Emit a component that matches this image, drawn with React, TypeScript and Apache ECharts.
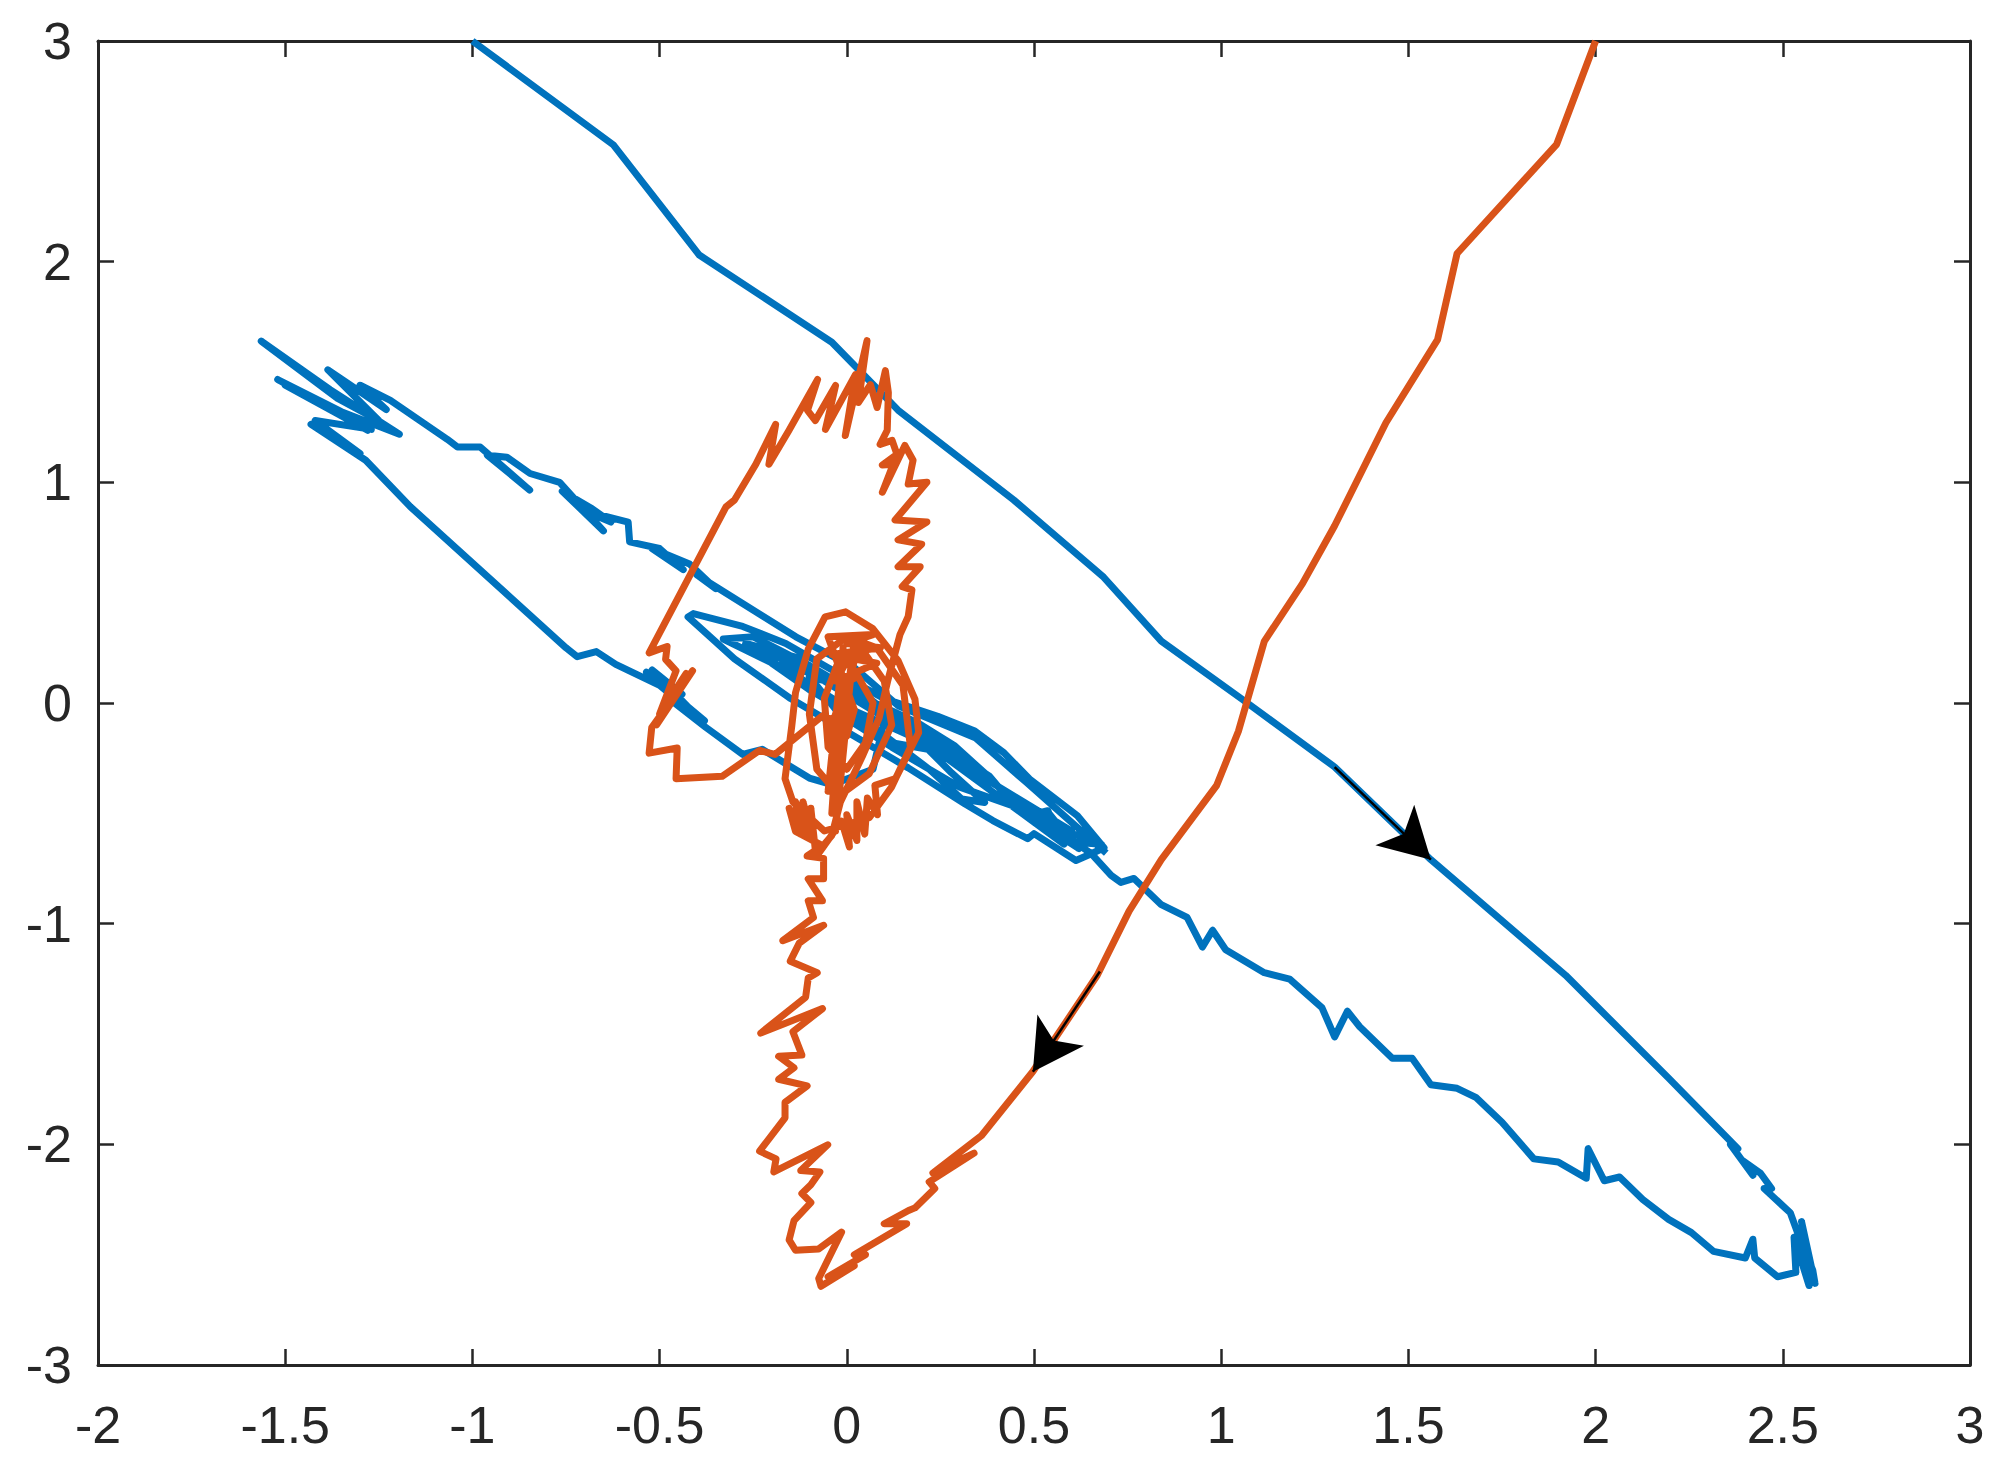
import React, { useEffect, useRef } from "react";
import * as echarts from "echarts";

const xTicks = { min: -2, max: 3, step: 0.5 };
const yTicks = { min: -3, max: 3, step: 1 };

// blue trajectory
const blueOutbound: number[][] = [
  [-1, 3], [-0.624, 2.53], [-0.394, 2.03], [-0.04, 1.635], [0.137, 1.327], [0.446, 0.92],
  [0.686, 0.57], [0.84, 0.28], [1.056, 0.017], [1.303, -0.29], [1.56, -0.71], [1.92, -1.234],
  [2.195, -1.7], [2.38, -2.02], [2.36, -2.0], [2.42, -2.14], [2.39, -2.07], [2.44, -2.13],
  [2.47, -2.2], [2.45, -2.2], [2.52, -2.31], [2.55, -2.45], [2.58, -2.57], [2.586, -2.63], [2.55, -2.35],
  [2.58, -2.6], [2.54, -2.38], [2.57, -2.64], [2.53, -2.42], [2.535, -2.58],
];
const blueReturn: number[][] = [
  [2.486, -2.6], [2.425, -2.515], [2.42, -2.43], [2.4, -2.515], [2.315, -2.485], [2.256, -2.4],
  [2.195, -2.34], [2.126, -2.25], [2.064, -2.148], [2.023, -2.165], [1.98, -2.02], [1.975, -2.154],
  [1.9, -2.08], [1.835, -2.066], [1.75, -1.9], [1.68, -1.787], [1.63, -1.746], [1.56, -1.73],
  [1.51, -1.61], [1.457, -1.61], [1.37, -1.467], [1.337, -1.397], [1.303, -1.513], [1.269, -1.38],
  [1.183, -1.251], [1.115, -1.222], [1.012, -1.118], [0.977, -1.03], [0.95, -1.106], [0.909, -0.972],
  [0.84, -0.914], [0.767, -0.795], [0.732, -0.813], [0.706, -0.781], [0.653, -0.683],
];
const blueEllipse: number[][] = [
  [0.612, -0.714], [0.5, -0.592], [0.483, -0.615], [0.39, -0.533], [0.315, -0.457], [0.164, -0.294],
  [0, -0.13], [-0.15, 0.02], [-0.3, 0.2], [-0.424, 0.39], [-0.41, 0.405], [-0.278, 0.347],
  [-0.163, 0.27], [-0.05, 0.16], [0.1, 0.02], [0.243, -0.06], [0.342, -0.127], [0.42, -0.226],
  [0.488, -0.344], [0.616, -0.511], [0.687, -0.656], [0.653, -0.683], [0.55, -0.56], [0.68, -0.64],
  [0.6, -0.63], [0.54, -0.5], [0.537, -0.488], [0.483, -0.511], [0.42, -0.407], [0.368, -0.317],
  [0.289, -0.195], [0.19, -0.09], [0.05, 0.02], [-0.1, 0.17], [-0.25, 0.3], [-0.33, 0.29],
  [-0.15, 0.14], [0, -0.02], [0.19, -0.164], [0.28, -0.317], [0.368, -0.451], [0.307, -0.435],
  [0.22, -0.3], [0.08, -0.12], [-0.1, 0.06], [-0.2, 0.18], [-0.08, 0.13], [0.05, 0],
  [0.2, -0.13], [0.38, -0.33], [0.45, -0.47], [0.3, -0.38], [0.12, -0.2], [-0.02, -0.05],
  [-0.1, 0.12], [0.03, 0.06], [0.13, -0.07], [0.25, -0.22], [0.12, -0.18], [-0.02, -0.02],
  [-0.27, 0.27], [-0.12, 0.2], [-0.22, 0.24], [-0.06, 0.1], [0.6, -0.58], [0.42, -0.44],
  [0.62, -0.66], [0.5, -0.5], [0.58, -0.64], [0.05, 0.02], [0.1, -0.08], [0.07, -0.3], [-0.04, -0.37],
];
const blueLeftLoop: number[][] = [
  [-0.1, -0.34], [-0.226, -0.21], [-0.278, -0.233], [-0.377, -0.11], [-0.46, 0], [-0.38, -0.08],
  [-0.535, 0.14], [-0.44, 0.04], [-0.52, 0.15], [-0.4, -0.06], [-0.5, 0.08], [-0.617, 0.175],
  [-0.669, 0.233], [-0.72, 0.21], [-0.75, 0.25], [-1.166, 0.89], [-1.285, 1.1], [-1.431, 1.263],
  [-1.3, 1.13], [-1.42, 1.28], [-1.27, 1.24], [-1.5, 1.44], [-1.28, 1.236], [-1.52, 1.466],
  [-1.35, 1.32], [-1.195, 1.218], [-1.38, 1.42], [-1.564, 1.64], [-1.36, 1.38], [-1.25, 1.28],
  [-1.386, 1.51], [-1.23, 1.33], [-1.3, 1.44], [-1.219, 1.371],
];
const blueUpper: number[][] = [
  [-1.067, 1.195], [-1.04, 1.16], [-0.979, 1.16], [-0.847, 0.965], [-0.96, 1.123], [-0.908, 1.114],
  [-0.846, 1.04], [-0.767, 1.0], [-0.65, 0.78], [-0.76, 0.96], [-0.68, 0.88], [-0.63, 0.82],
  [-0.7, 0.87], [-0.584, 0.82], [-0.58, 0.73], [-0.5, 0.7], [-0.437, 0.604], [-0.52, 0.7],
  [-0.42, 0.63], [-0.35, 0.518], [-0.4, 0.58], [-0.136, 0.3], [0.02, 0.16], [0.137, -0.012],
  [0.343, -0.157], [0.48, -0.36], [0.693, -0.68],
];

// orange trajectory
const orangeOutbound: number[][] = [
  [2, 3], [1.896, 2.532], [1.63, 2.037], [1.578, 1.647], [1.44, 1.27], [1.303, 0.803],
  [1.217, 0.541], [1.115, 0.279], [1.046, -0.128], [0.988, -0.373], [0.84, -0.71], [0.754, -0.943],
  [0.669, -1.234], [0.497, -1.67], [0.36, -1.96], [0.23, -2.13], [0.34, -2.04], [0.22, -2.17],
  [0.235, -2.2], [0.182, -2.288], [0.165, -2.3], [0.1, -2.36], [0.16, -2.36], [0.02, -2.5],
  [0.05, -2.5], [-0.05, -2.6], [0.02, -2.55], [-0.069, -2.643],
];
const orangeWiggle: number[][] = [
  [-0.075, -2.608], [-0.014, -2.398], [-0.075, -2.474], [-0.137, -2.48], [-0.154, -2.433], [-0.141, -2.346],
  [-0.096, -2.264], [-0.12, -2.223], [-0.096, -2.183], [-0.072, -2.125], [-0.123, -2.119], [-0.051, -2.002],
  [-0.195, -2.125], [-0.189, -2.066], [-0.233, -2.031], [-0.165, -1.88], [-0.165, -1.81], [-0.106, -1.735],
  [-0.182, -1.705], [-0.141, -1.653], [-0.182, -1.601], [-0.12, -1.595], [-0.144, -1.49], [-0.065, -1.385],
  [-0.23, -1.496], [-0.11, -1.333], [-0.103, -1.246], [-0.079, -1.222], [-0.151, -1.17], [-0.127, -1.088],
  [-0.062, -1.007], [-0.171, -1.077], [-0.089, -0.972], [-0.103, -0.896], [-0.065, -0.896], [-0.103, -0.797],
  [-0.062, -0.797], [-0.062, -0.704], [-0.106, -0.693],
];
const orangeBlob: number[][] = [
  [-0.065, -0.646], [-0.137, -0.582], [-0.154, -0.477], [-0.123, -0.594], [-0.137, -0.448], [-0.103, -0.594],
  [-0.117, -0.448], [-0.089, -0.623], [-0.096, -0.477], [-0.082, -0.698], [-0.014, -0.536], [0.007, -0.652],
  [0, -0.506], [0.027, -0.623], [0.027, -0.448], [0.048, -0.594], [0.055, -0.431], [0.082, -0.506],
  [0.075, -0.373], [0.13, -0.343], [0.192, -0.134], [0.182, 0.017], [0.137, 0.192], [0.069, 0.338],
  [-0.003, 0.413], [-0.058, 0.39], [-0.103, 0.244], [-0.137, 0.047], [-0.147, -0.105], [-0.165, -0.343],
  [-0.144, -0.448],
];
const orangeSpiral: number[][] = [
  [-0.06, -0.58], [0.06, -0.52], [0.12, -0.38], [0.17, -0.2], [0.15, 0.08], [0.08, 0.25],
  [0, 0.3], [-0.08, 0.2], [-0.1, -0.05], [-0.08, -0.3], [-0.02, -0.42], [0.06, -0.32],
  [0.12, -0.1], [0.1, 0.1], [0.05, 0.22], [-0.02, 0.2], [-0.06, 0.02], [-0.05, -0.2],
  [0, -0.3], [0.05, -0.18], [0.07, 0], [0.03, 0.12], [-0.02, 0.08], [-0.03, -0.08],
  [0, -0.15], [0.02, -0.03], [-0.05, 0.3], [0.07, 0.31], [0, 0.27], [0.09, 0.25],
  [-0.04, 0.22], [0.08, 0.18], [-0.03, 0.1], [0.03, 0.28], [-0.05, -0.4], [-0.01, 0.25],
  [-0.04, -0.5], [0.02, 0.28], [-0.03, -0.58], [0, 0.1], [-0.05, -0.15], [0, -0.1],
];
const orangeLeft: number[][] = [
  [-0.065, -0.058], [-0.192, -0.233], [-0.233, -0.215], [-0.333, -0.332], [-0.456, -0.343], [-0.453, -0.204],
  [-0.528, -0.227], [-0.521, -0.111], [-0.412, 0.146], [-0.508, -0.099], [-0.429, 0.134], [-0.5, -0.05],
  [-0.456, 0.146], [-0.484, 0.198], [-0.48, 0.256], [-0.528, 0.227],
];
const orangeTop: number[][] = [
  [-0.323, 0.888], [-0.3, 0.92], [-0.243, 1.082], [-0.19, 1.263], [-0.208, 1.082], [-0.155, 1.234],
  [-0.078, 1.466], [-0.105, 1.326], [-0.084, 1.28], [-0.03, 1.439], [-0.057, 1.24], [0.023, 1.488],
  [-0.004, 1.212], [0.054, 1.642], [0.031, 1.362], [0.063, 1.443], [0.081, 1.339], [0.103, 1.506],
  [0.111, 1.407], [0.108, 1.236], [0.089, 1.172], [0.121, 1.19], [0.134, 1.127], [0.095, 1.078],
  [0.124, 1.082], [0.095, 0.955], [0.155, 1.167], [0.177, 1.1], [0.164, 0.992], [0.214, 1],
  [0.129, 0.829], [0.214, 0.82], [0.137, 0.739], [0.2, 0.72], [0.137, 0.617], [0.196, 0.617],
  [0.148, 0.527], [0.174, 0.513], [0.164, 0.392], [0.142, 0.31], [0.11, 0.105], [0.086, -0.07],
  [0.041, -0.244], [-0.017, -0.448], [-0.04, -0.6], [-0.08, -0.68],
];

const bluePath = [...blueOutbound, ...blueReturn, ...blueEllipse, ...blueLeftLoop, ...blueUpper];
const orangePath = [...orangeOutbound, ...orangeWiggle, ...orangeBlob, ...orangeSpiral, ...orangeLeft, ...orangeTop];

const blueArrow = [[1.303, -0.291], [1.56, -0.71]];
const orangeArrow = [[0.676, -1.217], [0.497, -1.671]];

const AXIS_COLOR = "#262626";

const App = () => {
  const chartRef = useRef<HTMLDivElement>(null);

  useEffect(() => {
    if (!chartRef.current) return;
    const chart = echarts.init(chartRef.current, undefined, { renderer: "svg" });

    const arrowLine = (pts: number[][]) => ({
      silent: true,
      animation: false,
      symbol: ["none", "arrow"],
      symbolSize: [42, 50],
      label: { show: false },
      lineStyle: { color: "#000", width: 2.5, type: "solid" },
      data: [[{ coord: pts[0] }, { coord: pts[1] }]],
    });

    const tick = { show: true, inside: true, length: 16, lineStyle: { color: AXIS_COLOR, width: 2.5 } };
    const axisLine = { show: true, onZero: false, lineStyle: { color: AXIS_COLOR, width: 3 } };
    const tickLabel = {
      show: true,
      color: AXIS_COLOR,
      fontFamily: "Liberation Sans",
      fontSize: 52,
      showMinLabel: true,
      showMaxLabel: true,
      hideOverlap: false,
    };

    const option = {
      animation: false,
      backgroundColor: "#fff",
      grid: { left: 98, right: 42, top: 41, bottom: 110, containLabel: false },
      xAxis: [
        {
          type: "value", position: "bottom", min: xTicks.min, max: xTicks.max, interval: xTicks.step,
          axisLine, axisTick: tick, splitLine: { show: false },
          axisLabel: { ...tickLabel, margin: 34 },
        },
        {
          type: "value", position: "top", min: xTicks.min, max: xTicks.max, interval: xTicks.step,
          axisLine, axisTick: tick, splitLine: { show: false }, axisLabel: { show: false },
        },
      ],
      yAxis: [
        {
          type: "value", position: "left", min: yTicks.min, max: yTicks.max, interval: yTicks.step,
          axisLine, axisTick: tick, splitLine: { show: false },
          axisLabel: { ...tickLabel, margin: 26 },
        },
        {
          type: "value", position: "right", min: yTicks.min, max: yTicks.max, interval: yTicks.step,
          axisLine, axisTick: tick, splitLine: { show: false }, axisLabel: { show: false },
        },
      ],
      series: [
        {
          type: "line",
          data: bluePath,
          showSymbol: false,
          clip: true,
          lineStyle: { color: "#0072BD", width: 7, join: "round" },
          markLine: arrowLine(blueArrow),
        },
        {
          type: "line",
          data: orangePath,
          showSymbol: false,
          clip: true,
          lineStyle: { color: "#D95319", width: 7, join: "round" },
          markLine: arrowLine(orangeArrow),
        },
      ],
    };

    chart.setOption(option as echarts.EChartsOption);
    return () => chart.dispose();
  }, []);

  return (
    <div
      ref={chartRef}
      style={{ position: "absolute", left: 0, top: 0, width: 2012, height: 1475 }}
    />
  );
};

export default App;
